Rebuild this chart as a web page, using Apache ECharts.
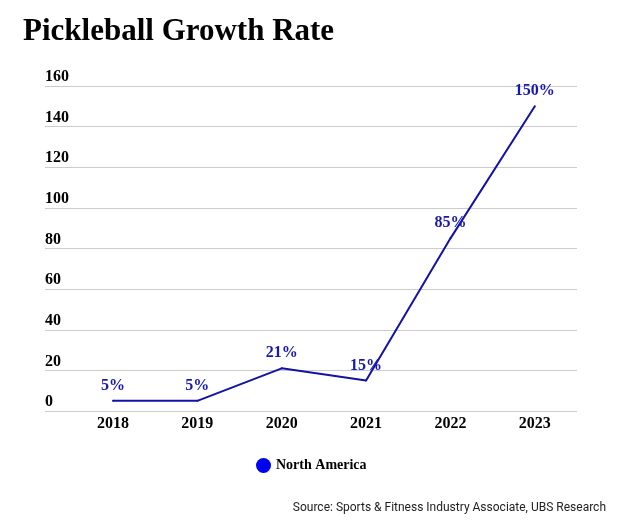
<!DOCTYPE html>
<html><head><meta charset="utf-8">
<script src="https://cdn.jsdelivr.net/npm/echarts@6/dist/echarts.min.js"></script>
<style>html,body{margin:0;padding:0;background:#fff}#c{width:634px;height:529px}</style>
</head><body><div id="c"></div>
<script>
const years = [2018, 2019, 2020, 2021, 2022, 2023];
const northAmerica = [5, 5, 21, 15, 85, 150];
const yTicks = [0, 20, 40, 60, 80, 100, 120, 140, 160];

const serif = '"Liberation Serif", "DejaVu Serif", serif';
const chart = echarts.init(document.getElementById('c'));
chart.setOption({
  backgroundColor: '#fff',
  animation: false,
  title: [{
    text: 'Pickleball Growth Rate', left: 18, top: 11,
    textStyle: {fontFamily: serif, fontWeight: 'bold', fontSize: 31, color: '#000'}
  }, {
    text: 'Source: Sports & Fitness Industry Associate, UBS Research', right: 23, top: 497,
    textStyle: {fontFamily: 'Roboto, sans-serif', fontWeight: 'normal', fontSize: 12, color: '#222'}
  }],
  legend: {
    left: 251, top: 453, icon: 'circle', itemWidth: 15, itemHeight: 15, itemGap: 10,
    data: [{name: 'North America', itemStyle: {color: '#0000f0', opacity: 1}}],
    textStyle: {fontFamily: serif, fontWeight: 'bold', fontSize: 14, color: '#000'}
  },
  grid: {left: 45, right: 57, top: 86, bottom: 118, containLabel: false},
  xAxis: {
    type: 'value', min: 2017.194, max: 2023.5,
    splitLine: {show: false}, axisLine: {show: false}, axisTick: {show: false},
    axisLabel: {
      customValues: years, margin: 5, formatter: v => String(v),
      fontFamily: serif, fontWeight: 'bold', fontSize: 16, color: '#000'
    }
  },
  yAxis: {
    type: 'value', min: 0, max: 160, interval: 20,
    axisLine: {show: false}, axisTick: {show: false},
    splitLine: {lineStyle: {color: '#cccccc', width: 1}},
    axisLabel: {
      inside: true, margin: 0, verticalAlign: 'bottom', align: 'left',
      fontFamily: serif, fontWeight: 'bold', fontSize: 16, color: '#000', padding: [0,0,1,0]
    }
  },
  series: [{
    name: 'North America', type: 'line',
    data: years.map((y, i) => [y, northAmerica[i]]),
    symbol: 'circle', symbolSize: 2, showSymbol: true,
    itemStyle: {color: '#1212a6'},
    lineStyle: {color: '#1212a6', width: 2},
    label: {
      show: true, position: 'top', distance: 6, formatter: p => p.value[1] + '%',
      fontFamily: serif, fontWeight: 'bold', fontSize: 16, color: '#1818b0'
    }
  }]
});
</script></body></html>
